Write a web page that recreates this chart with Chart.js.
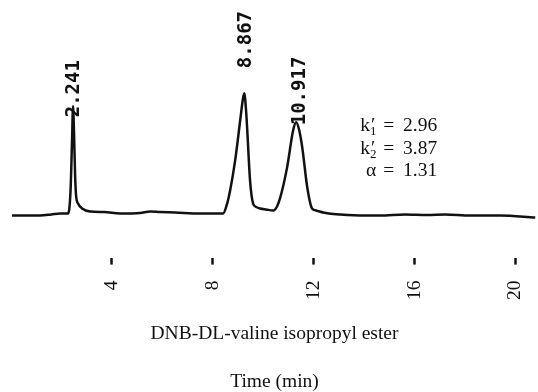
<!DOCTYPE html>
<html>
<head>
<meta charset="utf-8">
<script src="https://cdn.jsdelivr.net/npm/chart.js@4.4.1/dist/chart.umd.min.js"></script>
<style>
  html, body { margin: 0; padding: 0; background: #fff; }
  #wrap { width: 538px; height: 392px; }
</style>
</head>
<body>
<div id="wrap"><canvas id="cromatograma"></canvas></div>
<script>
// tempo (min) e sinal do detector (unidades arbitrarias, linha de base = 0)
const tempos = [0.04, 0.6, 1.15, 1.6, 1.94, 2.26, 2.36, 2.42, 2.46, 2.50, 2.54, 2.58, 2.66, 2.82, 3.14, 3.7,
    4.33, 5.12, 5.52, 5.91, 6.51, 7.5, 8.0, 8.41, 8.55, 8.69, 8.89, 9.09, 9.19, 9.25, 9.33, 9.37, 9.48, 9.60,
    9.72, 9.88, 10.12, 10.40, 10.55, 10.68, 10.95, 11.19, 11.31, 11.43, 11.55, 11.75, 11.94, 12.1, 12.38, 12.6,
    13.06, 14.0, 14.64, 15.63, 16.5, 17.22, 18.21, 19.4, 20.79];
const sinal = [-2, -2, -2, -1, 0, 0, 22, 72, 107, 80, 40, 18, 10, 5, 2, 1.5,
    0, 0.5, 2, 1.5, 1, 0, 0, 0, 8, 23, 53, 93, 113, 120, 100, 83, 33, 10,
    6.5, 5, 4, 3, 7, 16, 46, 83, 91, 83, 66, 26, 5, 3, 1, 0,
    -1, -2, -2, -1, -1.5, -1, -2, -2, -4];

const ticksTempo = [4, 8, 12, 16, 20];

// rotulos dos picos (tempo de retencao impresso pelo integrador)
const picosTexto = ["2.241", "8.867", "10.917"];
const picosX = [2.50, 9.34, 11.47];
const picosY = [96, 145, 88];

// fatores de retencao e seletividade
const fatores = [
    { simbolo: "k", indice: "1", valor: "2.96" },
    { simbolo: "k", indice: "2", valor: "3.87" },
    { simbolo: "\u03b1", indice: "", valor: "1.31" }
];
const fatoresX = 16.9;
const fatoresY = [82, 59.5, 37];

const fonteSerif = "'Liberation Serif', 'Times New Roman', serif";

const rotulos = {
    id: "rotulos",
    afterDatasetsDraw(grafico) {
        const ctx = grafico.ctx;
        const eixoX = grafico.scales.x;
        const eixoY = grafico.scales.y;
        ctx.save();
        ctx.fillStyle = "#111";

        // tempos de retencao, girados
        ctx.font = "bold 19px 'DejaVu Sans Mono', monospace";
        ctx.textAlign = "left";
        ctx.textBaseline = "middle";
        picosTexto.forEach((texto, i) => {
            ctx.save();
            ctx.translate(eixoX.getPixelForValue(picosX[i]), eixoY.getPixelForValue(picosY[i]));
            ctx.rotate(-Math.PI / 2);
            ctx.fillText(texto, 0, 0);
            ctx.restore();
        });

        // k'1, k'2, alfa -- alinhados pelo sinal de igual
        ctx.textBaseline = "alphabetic";
        const direita = eixoX.getPixelForValue(fatoresX);
        fatores.forEach((f, i) => {
            const base = eixoY.getPixelForValue(fatoresY[i]);
            ctx.font = "19.5px " + fonteSerif;
            ctx.textAlign = "right";
            ctx.fillText(f.valor, direita, base);
            ctx.fillText("=", direita - 43, base);
            if (f.indice) {
                ctx.textAlign = "left";
                const xk = direita - 77;
                ctx.fillText(f.simbolo, xk, base);
                const wk = ctx.measureText(f.simbolo).width;
                ctx.fillText("\u2032", xk + wk + 1, base);
                ctx.font = "13px " + fonteSerif;
                ctx.fillText(f.indice, xk + wk, base + 4);
            } else {
                ctx.fillText(f.simbolo, direita - 61, base);
            }
        });
        ctx.restore();
    }
};

const grafico = new Chart(document.getElementById("cromatograma"), {
    type: "line",
    data: {
        datasets: [{
            label: "DNB-DL-valine isopropyl ester",
            data: tempos.map((t, i) => ({ x: t, y: sinal[i] })),
            borderColor: "#111",
            borderWidth: 2.5,
            pointRadius: 0,
            cubicInterpolationMode: "monotone",
            fill: false
        }]
    },
    options: {
        responsive: true,
        maintainAspectRatio: false,
        animation: false,
        layout: { padding: { left: 11, right: 0, top: 10, bottom: 0 } },
        plugins: {
            legend: { display: false },
            tooltip: { enabled: false },
            subtitle: {
                display: true,
                position: "bottom",
                text: "DNB-DL-valine isopropyl ester",
                color: "#111",
                font: { family: fonteSerif, size: 19.5, weight: "normal" },
                padding: { top: 6, bottom: 0 }
            },
            title: {
                display: true,
                position: "bottom",
                text: "Time (min)",
                color: "#111",
                font: { family: fonteSerif, size: 19.5, weight: "normal", lineHeight: 1 },
                padding: { top: 27, bottom: 0 }
            }
        },
        scales: {
            x: {
                type: "linear",
                min: 0,
                max: 20.9,
                border: { display: false },
                grid: {
                    drawOnChartArea: false,
                    drawTicks: true,
                    tickLength: 7,
                    tickWidth: 2.5,
                    tickColor: "#111"
                },
                afterBuildTicks: (eixo) => {
                    eixo.ticks = ticksTempo.map(v => ({ value: v }));
                },
                afterFit: (eixo) => {
                    eixo.paddingLeft = 0;
                    eixo.paddingRight = 0;
                },
                ticks: {
                    autoSkip: false,
                    minRotation: 90,
                    maxRotation: 90,
                    padding: 16,
                    color: "#111",
                    font: { family: fonteSerif, size: 19.5 }
                }
            },
            y: {
                display: false,
                min: -44,
                max: 203
            }
        }
    },
    plugins: [rotulos]
});
</script>
</body>
</html>
